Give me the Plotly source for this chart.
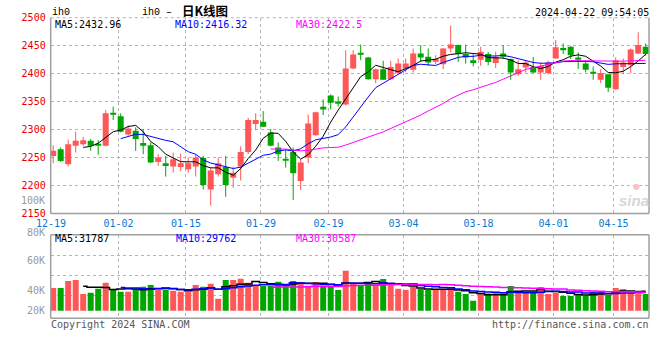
import plotly.graph_objects as go
import pandas as pd
import numpy as np

# ---------------- data ----------------
dates = ["12-19","12-20","12-21","12-22","12-25","12-26","12-27","12-28","12-29",
         "01-02","01-03","01-04","01-05","01-08","01-09","01-10","01-11","01-12",
         "01-15","01-16","01-17","01-18","01-19","01-22","01-23","01-24","01-25","01-26",
         "01-29","01-30","01-31","02-01","02-02","02-05","02-06","02-07","02-08",
         "02-19","02-20","02-21","02-22","02-23","02-26","02-27","02-28","02-29","03-01",
         "03-04","03-05","03-06","03-07","03-08","03-11","03-12","03-13","03-14","03-15",
         "03-18","03-19","03-20","03-21","03-22","03-25","03-26","03-27","03-28","03-29",
         "04-01","04-02","04-03","04-08","04-09","04-10","04-11","04-12",
         "04-15","04-16","04-17","04-18","04-19"]

opens = [2253,2265,2238,2271,2274,2280,2274,2271,2329,2324,2291,2298,2276,2272,2242,2240,
         2234,2233,2229,2234,2249,2193,2220,2233,2214,2234,2260,2310,2314,2295,2268,2247,
         2260,2208,2250,2290,2341,2361,2350,2345,2409,2435,2429,2390,2408,2390,2401,2409,
         2407,2436,2430,2423,2417,2445,2451,2435,2424,2425,2435,2419,2436,2426,2399,2411,
         2412,2402,2401,2427,2446,2448,2429,2418,2403,2389,2399,2372,2412,2415,2436,2448]
highs = [2272,2268,2282,2296,2287,2283,2281,2335,2341,2329,2308,2304,2301,2277,2256,2253,
         2259,2257,2250,2256,2253,2232,2250,2253,2234,2270,2321,2329,2333,2301,2277,2265,
         2268,2247,2327,2332,2354,2363,2359,2442,2442,2452,2430,2409,2423,2423,2427,2427,
         2445,2451,2445,2433,2446,2486,2452,2452,2436,2448,2439,2439,2451,2427,2424,2423,
         2430,2420,2423,2460,2454,2449,2438,2423,2413,2408,2399,2429,2427,2445,2474,2454]
lows = [2240,2242,2234,2259,2271,2262,2255,2270,2317,2295,2289,2262,2256,2240,2235,2216,
        2223,2226,2223,2216,2193,2164,2216,2180,2196,2209,2256,2299,2305,2270,2244,2232,
        2174,2192,2240,2289,2326,2336,2341,2343,2408,2424,2389,2383,2389,2389,2399,2403,
        2402,2421,2414,2417,2408,2438,2421,2418,2413,2414,2415,2410,2426,2389,2396,2402,
        2401,2389,2399,2427,2435,2426,2408,2402,2389,2383,2367,2371,2399,2401,2435,2432]
closes = [2262,2244,2274,2280,2281,2271,2272,2329,2328,2296,2302,2283,2271,2241,2250,2235,
          2247,2240,2240,2250,2201,2227,2240,2201,2223,2260,2317,2317,2305,2271,2256,2246,
          2222,2241,2311,2331,2336,2348,2348,2409,2434,2434,2390,2408,2389,2412,2418,2418,
          2436,2429,2420,2426,2445,2452,2435,2429,2419,2439,2421,2430,2430,2402,2408,2420,
          2402,2414,2420,2447,2442,2433,2426,2407,2401,2401,2375,2424,2420,2443,2451,2435]
volumes = [42700,42700,49700,50700,36700,38000,42000,48000,41500,39000,39000,41500,44000,45700,40700,41000,
           40000,39000,39000,45700,44000,47000,32000,50700,50700,52000,48000,45000,44700,44700,49000,45000,
           49700,48700,45000,48700,45000,43700,40700,60000,47700,45500,47700,45500,51700,45500,42000,40700,
           44000,41700,40700,40700,40700,43000,39000,36700,30000,36700,37300,39000,37300,44700,39000,39000,
           39000,43700,36700,38000,34700,34700,36700,34700,39000,39000,35700,42700,41700,39000,36700,36700]

tick_labels = ["12-19","01-02","01-15","01-29","02-19","03-04","03-18","04-01","04-15"]
price_ticks = [2150,2200,2250,2300,2350,2400,2450,2500]
vol_tick_labels = ["80K","60K","40K","20K"]
price_ma_text = ["MA5:2432.96","MA10:2416.32","MA30:2422.5"]
vol_ma_text = ["MA5:31787","MA10:29762","MA30:30587"]
timestamp = "2024-04-22 09:54:05"
symbol = "ih0"

# ---------------- styling / geometry ----------------
W, H = 660, 360
LEFT, RIGHT = 50.7, 649.0
P_TOP, P_BOT = 17.7, 213.5
V_TOP, V_BOT = 234.7, 318.3
X0, DX = 53.2, 7.5          # pixel of first candle centre, spacing
VBASE = 20000
VPX = 1000.0                # volume per pixel
RED, GREEN = "#ff5757", "#00a600"
GRID = "#b4b4b4"
BORDER = "#a0a0a0"
MONO = "DejaVu Sans Mono"

def fx(p): return p / W
def fy(p): return 1 - p / H

xs = np.arange(len(dates))
o = np.array(opens, float); c = np.array(closes, float)
h = np.array(highs, float); l = np.array(lows, float)
v = np.array(volumes, float)
up = c >= o
colors = [RED if u else GREEN for u in up]

xr = [(LEFT - X0) / DX, (RIGHT - X0) / DX]
vr = [VBASE - (V_BOT - 310.7) * VPX, VBASE + (310.7 - V_TOP) * VPX]
tickpos = [dates.index(t) - 0.3 for t in tick_labels]

fig = go.Figure()

# wicks
for col, mask in ((RED, up), (GREEN, ~up)):
    wx, wy = [], []
    for i in xs[mask]:
        wx += [i, i, None]; wy += [l[i], h[i], None]
    fig.add_trace(go.Scatter(x=wx, y=wy, mode="lines", line=dict(color=col, width=1),
                             hoverinfo="skip", showlegend=False))
# bodies
body_lo = np.minimum(o, c)
body_h = np.maximum(np.abs(c - o), 1.8)
fig.add_trace(go.Bar(x=xs, y=body_h, base=body_lo, width=0.8, marker=dict(color=colors, line=dict(width=0)),
                     showlegend=False, customdata=dates, hovertemplate="%{customdata}<extra></extra>"))

cs = pd.Series(c)
for n, col in ((5, "black"), (10, "#0000ff"), (30, "#ff00ff")):
    fig.add_trace(go.Scatter(x=xs, y=cs.rolling(n).mean(), mode="lines",
                             line=dict(color=col, width=1), showlegend=False, hoverinfo="skip"))

# volume
fig.add_trace(go.Bar(x=xs, y=v - VBASE, base=VBASE, width=0.8, xaxis="x2", yaxis="y2",
                     marker=dict(color=colors, line=dict(width=0)), showlegend=False,
                     customdata=v, hovertemplate="%{customdata}<extra></extra>"))
vs = pd.Series(v)
for n, col in ((5, "black"), (10, "#0000ff"), (30, "#ff00ff")):
    fig.add_trace(go.Scatter(x=xs, y=vs.rolling(n).mean(), mode="lines", line_shape="hvh",
                             xaxis="x2", yaxis="y2", line=dict(color=col, width=1.5),
                             showlegend=False, hoverinfo="skip"))

axis_common = dict(showline=False, zeroline=False, fixedrange=True, automargin=False)
fig.update_layout(
    width=W, height=H, margin=dict(l=0, r=0, t=0, b=0, pad=0, autoexpand=False),
    paper_bgcolor="white", plot_bgcolor="white", barmode="overlay",
    font=dict(family=MONO, size=10),
    xaxis=dict(domain=[fx(LEFT), fx(RIGHT)], range=xr, anchor="y", tickvals=tickpos,
               ticktext=tick_labels, tickfont=dict(color="#0a78d2", size=10, family=MONO),
               ticks="", ticklabelstandoff=2, showgrid=True, gridcolor=GRID, griddash="dot",
               gridwidth=1, **axis_common),
    yaxis=dict(domain=[fy(P_BOT), fy(P_TOP)], range=[2150, 2500], anchor="x",
               tickvals=price_ticks, ticktext=[str(t) for t in price_ticks],
               tickfont=dict(color="#e60000", size=10, family=MONO), ticks="",
               ticklabelstandoff=4, showgrid=True, gridcolor=GRID, griddash="dot", **axis_common),
    xaxis2=dict(domain=[fx(LEFT), fx(RIGHT)], range=xr, anchor="y2", matches="x",
                tickvals=tickpos, showticklabels=False, ticks="", showgrid=True,
                gridcolor=GRID, griddash="dot", **axis_common),
    yaxis2=dict(domain=[fy(V_BOT), fy(V_TOP)], range=vr, anchor="x2",
                tickvals=[35000, 55000, 75000], showticklabels=False, ticks="",
                showgrid=True, gridcolor=GRID, griddash="dot", **axis_common),
)

shapes = []
def line(x0, y0, x1, y1, dash="solid", col=BORDER, w=1.5):
    shapes.append(dict(type="line", xref="paper", yref="paper", x0=fx(x0), y0=fy(y0),
                       x1=fx(x1), y1=fy(y1), line=dict(color=col, width=w, dash=dash), layer="above"))
# price panel border (top dotted)
line(LEFT, P_TOP, LEFT, P_BOT); line(LEFT, P_BOT, RIGHT, P_BOT); line(RIGHT, P_TOP, RIGHT, P_BOT)
line(LEFT, P_TOP, RIGHT, P_TOP, dash="dot", col=GRID, w=1)
# volume panel border
line(LEFT, V_TOP, RIGHT, V_TOP); line(LEFT, V_BOT, RIGHT, V_BOT)
line(LEFT, V_TOP, LEFT, V_BOT); line(RIGHT, V_TOP, RIGHT, V_BOT)
fig.update_layout(shapes=shapes)

ann = []
def text(t, x, y, col="black", anchor="left", size=10, family=MONO):
    ann.append(dict(text=t, x=fx(x), y=fy(y), xref="paper", yref="paper", showarrow=False,
                    xanchor=anchor, yanchor="middle", borderpad=0,
                    font=dict(color=col, size=size, family=family)))

text(symbol, 50.7, 12.3, family="Liberation Mono")
text(symbol + " –", 140.7, 12.3, family="Liberation Mono")
text("<b>日K线图</b>", 181, 10.5, size=12.5, family="Noto Sans CJK SC")
text(timestamp, 649.5, 12.3, anchor="right")
for t, x, col in zip(price_ma_text, (54.3, 174.3, 295), ("black", "#0000ff", "#ff00ff")):
    text(t, x, 24.3, col=col)
for t, x, col in zip(vol_ma_text, (54.3, 175, 295), ("black", "#0000ff", "#ff00ff")):
    text(t, x, 238.8, col=col)
for t, y in zip(vol_tick_labels, (232, 260.7, 290.7, 310.7)):
    text(t, 46, y, col="#9a9a9a", anchor="right")
text("100K", 46, 200.7, col="#9a9a9a", anchor="right")
text("Copyright 2024 SINA.COM", 50, 324, col="#555555")
text("http://finance.sina.com.cn", 649.5, 324, col="#555555", anchor="right")
text("<b><i>sina</i></b>", 634, 200, col="#d6d6d6", anchor="center", size=15, family="Liberation Sans")
text("●", 636, 186, col="#f6c4c4", anchor="center", size=8, family="DejaVu Sans")
fig.update_layout(annotations=ann)

fig.write_html("out.html", config={"displayModeBar": False},
               post_script="document.body.style.margin='0px';document.body.style.padding='0px';")
